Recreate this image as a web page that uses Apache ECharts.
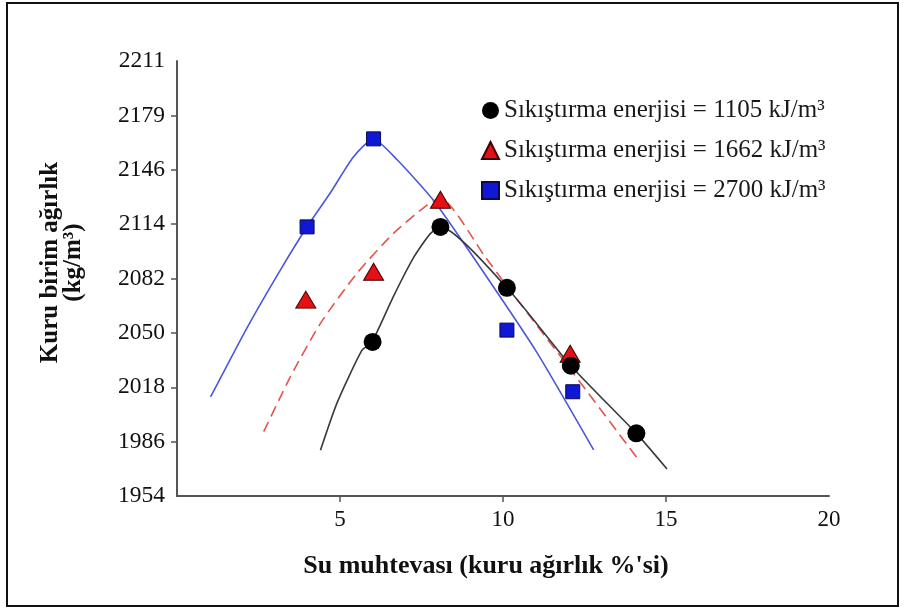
<!DOCTYPE html>
<html>
<head>
<meta charset="utf-8">
<script src="https://cdn.jsdelivr.net/npm/echarts@6/dist/echarts.min.js"></script>
<style>
  html, body { margin: 0; padding: 0; background: #fff; }
  #chart { width: 908px; height: 610px; }
</style>
</head>
<body>
<div id="chart"></div>
<script>
// Axis ranges and tick labels
const xMin = 0, xMax = 20;
const xTickValues = [5, 10, 15];
const xLabelValues = [5, 10, 15, 20];
const yMin = 1954, yMax = 2211;
const yTickLabels = ['1954', '1986', '2018', '2050', '2082', '2114', '2146', '2179', '2211'];

// Legend / series names
const name1105 = 'Sıkıştırma enerjisi = 1105 kJ/m³';
const name1662 = 'Sıkıştırma enerjisi = 1662 kJ/m³';
const name2700 = 'Sıkıştırma enerjisi = 2700 kJ/m³';

// Measured points: water content (%) and dry unit weight (kg/m³)
const water1105 = [6.0, 8.08, 10.12, 12.08, 14.09];
const density1105 = [2045, 2113, 2077, 2031, 1991];
const water1662 = [3.95, 6.03, 8.08, 12.06];
const density1662 = [2070, 2086.5, 2129, 2038];
const water2700 = [3.99, 6.03, 10.12, 12.14];
const density2700 = [2113, 2165, 2052, 2015.6];

// Compaction curves
const curve1105X = [4.40, 4.91, 5.67, 5.98, 6.64, 7.26, 7.77, 8.08, 10.12, 12.08, 14.09, 15.03];
const curve1105Y = [1981, 2009, 2040, 2045, 2072, 2095, 2109, 2113, 2077, 2031, 1991, 1970];
const curve1662X = [2.66, 3.48, 4.40, 5.52, 6.64, 7.67, 8.08, 9.45, 10.12, 12.06, 14.16];
const curve1662Y = [1992, 2024.5, 2056, 2085.6, 2109.2, 2125.9, 2130, 2095.4, 2078, 2029, 1975.3];
const curve2700X = [1.03, 2.16, 3.17, 3.99, 4.70, 5.41, 6.02, 6.76, 7.86, 8.94, 10.99, 12.78];
const curve2700Y = [2012.5, 2053.8, 2087.5, 2113.1, 2133, 2154.3, 2164.9, 2152.5, 2128.9, 2099.3, 2040.3, 1981.2];

const pairs = (xs, ys) => xs.map((x, i) => [x, ys[i]]);
const yStep = (yMax - yMin) / (yTickLabels.length - 1);
const yTickValues = yTickLabels.map((_, i) => yMin + i * yStep);

const serif = '"Liberation Serif", "Times New Roman", serif';
const axisColor = '#555';

const chart = echarts.init(document.getElementById('chart'), null, { renderer: 'canvas' });

const curveBase = { type: 'line', showSymbol: false, symbol: 'none', silent: true, z: 2, smooth: 0.2 };
const markBase = { type: 'scatter', z: 5 };

chart.setOption({
  animation: false,
  backgroundColor: '#ffffff',
  graphic: [{
    type: 'rect',
    silent: true,
    shape: { x: 7, y: 3, width: 891, height: 603 },
    style: { fill: 'none', stroke: '#111', lineWidth: 2 }
  }],
  grid: { left: 177, right: 79, top: 61, bottom: 114 },
  legend: {
    orient: 'vertical',
    left: 476,
    top: 93,
    itemWidth: 17,
    itemHeight: 17,
    itemGap: 15,
    textStyle: { fontFamily: serif, fontSize: 25, color: '#1a1a1a' },
    data: [
      { name: name1105, icon: 'circle' },
      { name: name1662, icon: 'triangle' },
      { name: name2700, icon: 'rect' }
    ]
  },
  xAxis: {
    type: 'value',
    min: xMin,
    max: xMax,
    name: "Su muhtevası (kuru ağırlık %'si)",
    nameLocation: 'middle',
    nameGap: 57,
    nameTextStyle: { fontFamily: serif, fontSize: 26, fontWeight: 'bold', color: '#111', padding: [0, 34, 0, 0] },
    axisLine: { show: true, onZero: false, lineStyle: { color: axisColor, width: 2 } },
    axisTick: { show: true, customValues: xTickValues, length: 6, lineStyle: { color: axisColor, width: 1.5 } },
    axisLabel: { customValues: xLabelValues, fontFamily: serif, fontSize: 23, color: '#111', margin: 12 },
    splitLine: { show: false }
  },
  yAxis: {
    type: 'value',
    min: yMin,
    max: yMax,
    name: 'Kuru birim ağırlık\n(kg/m³)',
    nameLocation: 'middle',
    nameGap: 92,
    nameTextStyle: { fontFamily: serif, fontSize: 25, fontWeight: 'bold', color: '#111', lineHeight: 23, padding: [0, 0, 0, 32] },
    axisLine: { show: true, onZero: false, lineStyle: { color: axisColor, width: 2 } },
    axisTick: { show: true, customValues: yTickValues.slice(1, -1), length: 6, lineStyle: { color: axisColor, width: 1.5 } },
    axisLabel: {
      customValues: yTickValues,
      fontFamily: serif, fontSize: 23.5, color: '#111', margin: 12,
      formatter: (v) => yTickLabels[Math.round((v - yMin) / yStep)]
    },
    splitLine: { show: false }
  },
  series: [
    Object.assign({}, curveBase, {
      name: 'curve2700', data: pairs(curve2700X, curve2700Y),
      lineStyle: { color: '#4a57dc', width: 1.6 }
    }),
    Object.assign({}, curveBase, {
      name: 'curve1662', data: pairs(curve1662X, curve1662Y),
      lineStyle: { color: '#e5534e', width: 1.6, type: [11, 6] }
    }),
    Object.assign({}, curveBase, {
      name: 'curve1105', data: pairs(curve1105X, curve1105Y),
      lineStyle: { color: '#3a3a3a', width: 1.6 }
    }),
    Object.assign({}, markBase, {
      name: name2700, symbol: 'rect', symbolSize: 14,
      data: pairs(water2700, density2700),
      itemStyle: { color: '#1018d6', borderColor: '#0a0a50', borderWidth: 1, opacity: 1 }
    }),
    Object.assign({}, markBase, {
      name: name1662, symbol: 'triangle', symbolSize: [20, 17],
      data: pairs(water1662, density1662),
      itemStyle: { color: '#e60f14', borderColor: '#400000', borderWidth: 1, opacity: 1 }
    }),
    Object.assign({}, markBase, {
      name: name1105, symbol: 'circle', symbolSize: 18,
      data: pairs(water1105, density1105),
      itemStyle: { color: '#000000', opacity: 1 }
    })
  ]
});
</script>
</body>
</html>
